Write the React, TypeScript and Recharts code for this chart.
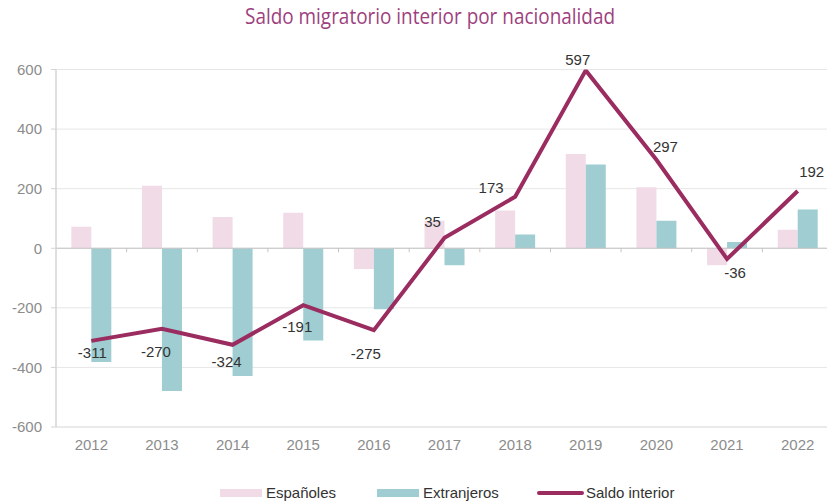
import React from 'react';
import { ComposedChart, Bar, Line, XAxis, YAxis, CartesianGrid, ReferenceLine, LabelList } from 'recharts';

const years = ['2012', '2013', '2014', '2015', '2016', '2017', '2018', '2019', '2020', '2021', '2022'];
const espanoles = [72, 210, 105, 119, -70, 92, 127, 316, 205, -57, 62];
const extranjeros = [-382, -479, -429, -310, -205, -57, 46, 281, 92, 21, 130];
const saldo = [-311, -270, -324, -191, -275, 35, 173, 597, 297, -36, 192];
const yTicks = [-600, -400, -200, 0, 200, 400, 600];

// label placement relative to each line point (style only)
const labelShift: [number, number][] = [
  [1, 12], [-6, 23], [-6, 17], [-6, 21], [-8, 23], [-12, -16], [-24, -9], [-8, -11], [9, -13], [8, 14], [14, -20],
];

const data = years.map((y, i) => ({ year: y, esp: espanoles[i], ext: extranjeros[i], saldo: saldo[i] }));

const COL_ESP = '#f0dbe7';
const COL_EXT = '#9fcdd1';
const COL_LINE = '#9a2c60';
const FONT = '"Liberation Sans", Arial, sans-serif';

const renderLabel = (props: any) => {
  const { x, y, value, index } = props;
  const [dx, dy] = labelShift[index] || [0, -12];
  return (
    <text x={x + dx} y={y + dy} textAnchor="middle" dominantBaseline="central" fontSize={15} fill="#333333" fontFamily={FONT}>
      {value}
    </text>
  );
};

// zero line with category-boundary tick marks
const ZeroLine = (props: any) => {
  const { x1, y1, x2, y2 } = props;
  const n = years.length;
  const step = (x2 - x1) / n;
  const ticks = [];
  for (let i = 1; i < n; i++) {
    const x = x1 + step * i;
    ticks.push(<line key={i} x1={x} x2={x} y1={y1} y2={y1 + 4} stroke="#c4c4c4" strokeWidth={1} />);
  }
  return (
    <g>
      <line x1={x1} y1={y1} x2={x2} y2={y2} stroke="#c4c4c4" strokeWidth={1.2} />
      {ticks}
    </g>
  );
};

export default function App() {
  return (
    <div style={{ position: 'absolute', left: 0, top: 0, width: 827, height: 504, overflow: 'hidden', background: '#fff', fontFamily: FONT }}>
      <svg width={827} height={40} style={{ position: 'absolute', left: 0, top: 0 }}>
        <text x={430} y={23.5} textAnchor="middle" fontSize={21.5} fill="#9d3f7e" fontFamily='"Open Sans", sans-serif' textLength={370} lengthAdjust="spacingAndGlyphs">
          Saldo migratorio interior por nacionalidad
        </text>
      </svg>
      <div style={{ position: 'absolute', left: 0, top: 0 }}>
        <ComposedChart width={833} height={504} data={data} margin={{ top: 69.5, right: 0, bottom: 47, left: 0 }} barCategoryGap="21.7%" barGap={0}>
          <CartesianGrid vertical={false} stroke="#e6e6e6" />
          <XAxis dataKey="year" axisLine={{ stroke: '#e0e0e0' }} tickLine={false} height={30} tickMargin={6}
            tick={{ fontSize: 15, fill: '#8c8c8c', fontFamily: FONT }} interval={0} />
          <YAxis domain={[-600, 600]} ticks={yTicks} width={56} axisLine={{ stroke: '#d4d4d4', strokeWidth: 1.5 }}
            tickLine={{ stroke: '#d4d4d4' }} tickSize={5} tickMargin={9} allowDataOverflow
            tick={{ fontSize: 15, fill: '#8c8c8c', fontFamily: FONT }} />
          <Bar dataKey="esp" fill={COL_ESP} isAnimationActive={false} />
          <Bar dataKey="ext" fill={COL_EXT} isAnimationActive={false} />
          <ReferenceLine y={0} shape={ZeroLine} />
          <Line dataKey="saldo" stroke={COL_LINE} strokeWidth={4} dot={false} isAnimationActive={false} strokeLinejoin="miter">
            <LabelList dataKey="saldo" content={renderLabel} />
          </Line>
        </ComposedChart>
      </div>
      <div style={{ position: 'absolute', top: 484, left: 0, width: 827, height: 18, fontSize: 15, color: '#333' }}>
        <div style={{ position: 'absolute', left: 220, top: 5, width: 42, height: 8, background: COL_ESP }} />
        <div style={{ position: 'absolute', left: 266, top: 0, lineHeight: '18px' }}>Españoles</div>
        <div style={{ position: 'absolute', left: 377, top: 5, width: 42, height: 8, background: COL_EXT }} />
        <div style={{ position: 'absolute', left: 423, top: 0, lineHeight: '18px' }}>Extranjeros</div>
        <div style={{ position: 'absolute', left: 537, top: 7, width: 47, height: 4, borderRadius: 2, background: COL_LINE }} />
        <div style={{ position: 'absolute', left: 586, top: 0, lineHeight: '18px' }}>Saldo interior</div>
      </div>
    </div>
  );
}
